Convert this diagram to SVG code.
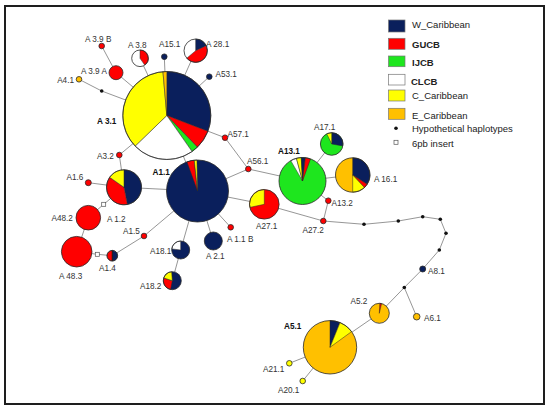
<svg xmlns="http://www.w3.org/2000/svg" width="550" height="411" viewBox="0 0 550 411">
<style>
.bg{fill:#fff}
.frame{fill:none;stroke:#1e1e1e;stroke-width:2}
.e{stroke:#8a8a8a;stroke-width:0.9;fill:none}
.o{fill:none;stroke:#2a2a2a;stroke-width:0.8}
.s{stroke:#2a2a2a;stroke-width:0.5}
.nv{fill:#0a1f5c}.rd{fill:#ff0000}.gr{fill:#1ee61e}.wh{fill:#ffffff}.ye{fill:#ffff00}.or{fill:#ffc000}
.hy{fill:#111}
.ins{fill:#fff;stroke:#555;stroke-width:0.7}
text{font-family:"Liberation Sans",Arial,sans-serif;fill:#333;font-size:8.2px}
.b{font-weight:bold;fill:#111}
.lg{font-size:9.5px;fill:#222}
.sw{stroke:#777;stroke-width:0.7}
</style>
<rect class="bg" x="0" y="0" width="550" height="411"/>
<rect class="frame" x="5" y="6" width="539" height="398"/>

<g id="connectors">
<line class="e" x1="101.7" y1="46" x2="116" y2="72.7"/>
<line class="e" x1="116" y1="72.7" x2="166.8" y2="115.5"/>
<polyline class="e" points="79,79.3 101.7,91 166.8,115.5"/>
<line class="e" x1="140" y1="58.3" x2="166.8" y2="115.5"/>
<line class="e" x1="164.3" y1="56.7" x2="166.8" y2="115.5"/>
<line class="e" x1="195.7" y1="50.7" x2="166.8" y2="115.5"/>
<line class="e" x1="209.3" y1="76.7" x2="166.8" y2="115.5"/>
<polyline class="e" points="166.8,115.5 225,137.7 248.3,169"/>
<line class="e" x1="248.3" y1="169" x2="197.5" y2="191"/>
<line class="e" x1="248.3" y1="169" x2="302.5" y2="181"/>
<polyline class="e" points="166.8,115.5 119.3,155 124,187.3"/>
<line class="e" x1="166.8" y1="115.5" x2="197.5" y2="191"/>
<line class="e" x1="88.3" y1="182.7" x2="124" y2="187.3"/>
<polyline class="e" points="124,187.3 103.7,204.3 88.3,217.7"/>
<line class="e" x1="88.3" y1="217.7" x2="76.7" y2="251.7"/>
<polyline class="e" points="76.7,251.7 97.3,254.3 112.3,255.7"/>
<polyline class="e" points="112.3,255.7 144,236 197.5,191"/>
<line class="e" x1="124" y1="187.3" x2="197.5" y2="191"/>
<polyline class="e" points="197.5,191 180.7,250 172.3,280.7"/>
<line class="e" x1="197.5" y1="191" x2="213.3" y2="241"/>
<line class="e" x1="197.5" y1="191" x2="230.7" y2="227.3"/>
<line class="e" x1="197.5" y1="191" x2="264.3" y2="204.3"/>
<line class="e" x1="264.3" y1="204.3" x2="323.3" y2="221"/>
<line class="e" x1="302.5" y1="181" x2="331.7" y2="144"/>
<line class="e" x1="302.5" y1="181" x2="352.7" y2="175"/>
<polyline class="e" points="302.5,181 328.3,200.7 323.3,221"/>
<polyline class="e" points="323.3,221 364,224.3 398.3,221 422.7,216.7 440.3,219.3 446,233.3 439.3,250 422.7,269 404.3,287.5 379.3,313.3 330,347.3"/>
<line class="e" x1="404.3" y1="287.5" x2="416.7" y2="316.7"/>
<line class="e" x1="330" y1="347.3" x2="289.3" y2="363.3"/>
<line class="e" x1="330" y1="347.3" x2="302.7" y2="381"/>
</g>

<g id="hypothetical">
<circle class="hy" cx="101.7" cy="91" r="1.8"/>
<circle class="hy" cx="364" cy="224.3" r="1.8"/>
<circle class="hy" cx="398.3" cy="221" r="1.8"/>
<circle class="hy" cx="422.7" cy="216.7" r="1.8"/>
<circle class="hy" cx="440.3" cy="219.3" r="1.8"/>
<circle class="hy" cx="446" cy="233.3" r="1.8"/>
<circle class="hy" cx="439.3" cy="250" r="1.8"/>
<circle class="hy" cx="404.3" cy="287.5" r="1.8"/>
</g>
<g id="inserts">
<rect class="ins" x="101.7" y="202.3" width="4" height="4"/>
<rect class="ins" x="95.3" y="252.3" width="4" height="4"/>
</g>

<g id="A3.1">
<path class="nv s" d="M166.8,115.5 L166.8,71.5 A44,44 0 0 1 207.88,131.27 Z"/>
<path class="rd s" d="M166.8,115.5 L207.88,131.27 A44,44 0 0 1 197.37,147.15 Z"/>
<path class="gr s" d="M166.8,115.5 L197.37,147.15 A44,44 0 0 1 192.04,151.54 Z"/>
<path class="wh s" d="M166.8,115.5 L192.04,151.54 A44,44 0 0 1 135.15,146.07 Z"/>
<path class="ye s" d="M166.8,115.5 L135.15,146.07 A44,44 0 0 1 162.96,71.67 Z"/>
<path class="or s" d="M166.8,115.5 L162.96,71.67 A44,44 0 0 1 166.8,71.5 Z"/>
<circle class="o" cx="166.8" cy="115.5" r="44"/>
<text class="b" x="97" y="124">A 3.1</text>
</g>
<g id="A3.9B"><circle class="o" style="fill:#f00" cx="101.7" cy="46" r="2.8"/><text x="85" y="42">A 3.9 B</text></g>
<g id="A3.9A"><circle class="o" style="fill:#f00" cx="116" cy="72.7" r="7"/><text x="81" y="73.5">A 3.9 A</text></g>
<g id="A4.1"><circle class="o" style="fill:#ffc000" cx="79" cy="79.3" r="2.8"/><text x="74" y="82.5" text-anchor="end">A4.1</text></g>
<g id="A3.8">
<circle class="wh" cx="140" cy="58.3" r="8.3"/>
<path class="rd s" d="M140,58.3 L140,50 A8.3,8.3 0 0 1 144.76,65.1 Z"/>
<circle class="o" cx="140" cy="58.3" r="8.3"/>
<text x="128" y="48">A 3.8</text>
</g>
<g id="A15.1"><circle class="o" style="fill:#0a1f5c" cx="164.3" cy="56.7" r="2.8"/><text x="159" y="46.5">A15.1</text></g>
<g id="A28.1">
<circle class="wh" cx="195.7" cy="50.7" r="11.7"/>
<path class="nv s" d="M195.7,50.7 L195.7,39 A11.7,11.7 0 0 1 206.3,45.76 Z"/>
<path class="rd s" d="M195.7,50.7 L206.3,45.76 A11.7,11.7 0 0 1 186.74,58.22 Z"/>
<circle class="o" cx="195.7" cy="50.7" r="11.7"/>
<text x="206" y="46.5">A 28.1</text>
</g>
<g id="A53.1"><circle class="o" style="fill:#0a1f5c" cx="209.3" cy="76.7" r="2.8"/><text x="215.5" y="77">A53.1</text></g>
<g id="A57.1"><circle class="o" style="fill:#f00" cx="225" cy="137.7" r="2.8"/><text x="227.5" y="137">A57.1</text></g>
<g id="A56.1"><circle class="o" style="fill:#f00" cx="248.3" cy="169" r="2.8"/><text x="247" y="164">A56.1</text></g>
<g id="A3.2"><circle class="o" style="fill:#f00" cx="119.3" cy="155" r="2.8"/><text x="97" y="158.5">A3.2</text></g>

<g id="A1.1">
<circle class="nv" cx="197.5" cy="191" r="31"/>
<path class="rd s" d="M197.5,191 L186.9,161.87 A31,31 0 0 1 194.26,160.17 Z"/>
<path class="ye s" d="M197.5,191 L194.26,160.17 A31,31 0 0 1 196.96,160 Z"/>
<circle class="o" cx="197.5" cy="191" r="31"/>
<text class="b" x="152.5" y="175">A1.1</text>
</g>
<g id="A1.2">
<path class="nv s" d="M124,187.3 L124,169.8 A17.5,17.5 0 0 1 127.34,204.48 Z"/>
<path class="rd s" d="M124,187.3 L127.34,204.48 A17.5,17.5 0 0 1 109.66,177.26 Z"/>
<path class="ye s" d="M124,187.3 L109.66,177.26 A17.5,17.5 0 0 1 124,169.8 Z"/>
<circle class="o" cx="124" cy="187.3" r="17.5"/>
<text x="107" y="221.5">A 1.2</text>
</g>
<g id="A1.6"><circle class="o" style="fill:#f00" cx="88.3" cy="182.7" r="3"/><text x="66.5" y="180">A1.6</text></g>
<g id="A48.2"><circle class="o" style="fill:#f00" cx="88.3" cy="217.7" r="12.3"/><text x="51.5" y="221">A48.2</text></g>
<g id="A48.3"><circle class="o" style="fill:#f00" cx="76.7" cy="251.7" r="15.3"/><text x="59" y="278.5">A 48.3</text></g>
<g id="A1.4">
<path class="nv s" d="M112.3,255.7 L112.3,250.4 A5.3,5.3 0 0 1 112.3,261 Z"/>
<path class="rd s" d="M112.3,255.7 L112.3,261 A5.3,5.3 0 0 1 112.3,250.4 Z"/>
<line x1="112.3" y1="250.4" x2="112.3" y2="261" stroke="#111" stroke-width="0.8"/>
<circle class="o" cx="112.3" cy="255.7" r="5.3"/>
<text x="99" y="270.5">A1.4</text>
</g>
<g id="A1.5"><circle class="o" style="fill:#f00" cx="144" cy="236" r="2.8"/><text x="123" y="233.5">A1.5</text></g>
<g id="A18.1">
<circle class="nv" cx="180.7" cy="250" r="9"/>
<path class="wh s" d="M180.7,250 L171.77,248.9 A9,9 0 0 1 180.7,241 Z"/>
<circle class="o" cx="180.7" cy="250" r="9"/>
<text x="150" y="253.5">A18.1</text>
</g>
<g id="A18.2">
<circle class="nv" cx="172.3" cy="280.7" r="9"/>
<path class="rd s" d="M172.3,280.7 L170.58,289.53 A9,9 0 0 1 163.74,277.92 Z"/>
<path class="ye s" d="M172.3,280.7 L163.74,277.92 A9,9 0 0 1 171.67,271.72 Z"/>
<circle class="o" cx="172.3" cy="280.7" r="9"/>
<text x="140" y="288.5">A18.2</text>
</g>
<g id="A2.1"><circle class="o" style="fill:#0a1f5c" cx="213.3" cy="241" r="9"/><text x="206" y="259">A 2.1</text></g>
<g id="A1.1B"><circle class="o" style="fill:#f00" cx="230.7" cy="227.3" r="2.8"/><text x="227" y="241.5">A 1.1 B</text></g>
<g id="A27.1">
<circle class="rd" cx="264.3" cy="204.3" r="14.8"/>
<path class="ye s" d="M264.3,204.3 L249.82,207.38 A14.8,14.8 0 0 1 264.3,189.5 Z"/>
<circle class="o" cx="264.3" cy="204.3" r="14.8"/>
<text x="256" y="228.5">A27.1</text>
</g>

<g id="A13.1">
<circle class="gr" cx="302.5" cy="181" r="23.5"/>
<path class="wh s" d="M302.5,181 L290.75,160.65 A23.5,23.5 0 0 1 296.42,158.3 Z"/>
<path class="ye s" d="M302.5,181 L296.42,158.3 A23.5,23.5 0 0 1 301.27,157.53 Z"/>
<path class="nv s" d="M302.5,181 L301.27,157.53 A23.5,23.5 0 0 1 305.36,157.68 Z"/>
<path class="rd s" d="M302.5,181 L305.36,157.68 A23.5,23.5 0 0 1 310.54,158.92 Z"/>
<circle class="o" cx="302.5" cy="181" r="23.5"/>
<text class="b" x="278" y="154">A13.1</text>
</g>
<g id="A17.1">
<circle class="gr" cx="331.7" cy="144" r="11.3"/>
<path class="nv s" d="M331.7,144 L331.7,132.7 A11.3,11.3 0 0 1 342.83,145.96 Z"/>
<path class="ye s" d="M331.7,144 L326.75,133.84 A11.3,11.3 0 0 1 331.7,132.7 Z"/>
<circle class="o" cx="331.7" cy="144" r="11.3"/>
<text x="314" y="129.5">A17.1</text>
</g>
<g id="A16.1">
<circle class="or" cx="352.7" cy="175" r="17.2"/>
<path class="nv s" d="M352.7,175 L352.7,157.8 A17.2,17.2 0 0 1 367.13,184.37 Z"/>
<path class="rd s" d="M352.7,175 L367.13,184.37 A17.2,17.2 0 0 1 364.43,187.58 Z"/>
<path class="ye s" d="M352.7,175 L364.43,187.58 A17.2,17.2 0 0 1 352.7,192.2 Z"/>
<circle class="o" cx="352.7" cy="175" r="17.2"/>
<text x="374" y="181.5">A 16.1</text>
</g>
<g id="A13.2"><circle class="o" style="fill:#f00" cx="328.3" cy="200.7" r="2.8"/><text x="331.5" y="206">A13.2</text></g>
<g id="A27.2"><circle class="o" style="fill:#f00" cx="323.3" cy="221" r="2.8"/><text x="302.5" y="232.5">A27.2</text></g>

<g id="A8.1"><circle class="o" style="fill:#0a1f5c" cx="422.7" cy="269" r="3"/><text x="428" y="273.5">A8.1</text></g>
<g id="A6.1"><circle class="o" style="fill:#ffc000" cx="416.7" cy="316.7" r="3.3"/><text x="424" y="321">A6.1</text></g>
<g id="A5.2">
<circle class="or" cx="379.3" cy="313.3" r="10"/>
<path class="rd s" d="M379.3,313.3 L379.82,303.31 A10,10 0 0 1 381.55,303.56 Z"/>
<circle class="o" cx="379.3" cy="313.3" r="10"/>
<text x="350.5" y="303.5">A5.2</text>
</g>
<g id="A5.1">
<circle class="or" cx="330" cy="347.3" r="26.7"/>
<path class="nv s" d="M330,347.3 L330,320.6 A26.7,26.7 0 0 1 340,322.54 Z"/>
<path class="ye s" d="M330,347.3 L340,322.54 A26.7,26.7 0 0 1 351.6,331.61 Z"/>
<circle class="o" cx="330" cy="347.3" r="26.7"/>
<text class="b" x="284" y="328.5">A5.1</text>
</g>
<g id="A21.1"><circle class="o" style="fill:#ffff00" cx="289.3" cy="363.3" r="2.8"/><text x="263" y="372">A21.1</text></g>
<g id="A20.1"><circle class="o" style="fill:#ffff00" cx="302.7" cy="381" r="2.8"/><text x="278" y="392.5">A20.1</text></g>

<g id="legend">
<rect class="nv sw" x="388.5" y="20" width="16.5" height="12"/>
<text class="lg" x="412" y="27.5">W_Caribbean</text>
<rect class="rd sw" x="388.5" y="38.3" width="16.5" height="11"/>
<text class="lg b" x="412" y="48">GUCB</text>
<rect class="gr sw" x="388.5" y="56" width="16.5" height="10.7"/>
<text class="lg b" x="412" y="65.5">IJCB</text>
<rect class="wh sw" x="388.5" y="74.3" width="16.5" height="10.7"/>
<text class="lg b" x="411" y="85">CLCB</text>
<rect class="ye sw" x="388.5" y="90" width="16.5" height="11"/>
<text class="lg" x="412" y="99">C_Caribbean</text>
<rect class="or sw" x="388.5" y="108.3" width="16.5" height="11"/>
<text class="lg" x="412" y="118.5">E_Caribbean</text>
<circle class="hy" cx="396" cy="128.3" r="1.8"/>
<text class="lg" x="412" y="132">Hypothetical haplotypes</text>
<rect class="ins" x="394" y="140.3" width="4" height="4"/>
<text class="lg" x="412" y="147">6pb insert</text>
</g>
</svg>
